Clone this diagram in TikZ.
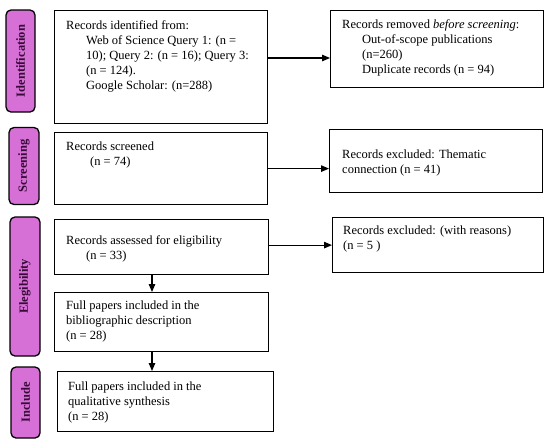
\documentclass[tikz,border=0pt]{standalone}
\usepackage{fontspec}
\setmainfont{Liberation Serif}
\usetikzlibrary{arrows.meta}
\definecolor{tabfill}{RGB}{214,112,214}
\definecolor{tabtext}{RGB}{55,10,55}
\tikzset{
  tab/.style={draw=black, line width=1.3pt, fill=tabfill, rounded corners=5pt, rotate=90, inner sep=0pt,
    text=tabtext, font=\fontsize{12.5}{14}\selectfont\bfseries},
  box/.style={draw=black, line width=1.2pt, anchor=north west, inner sep=0pt},
  boxtext/.style={anchor=north west, align=left, inner sep=0pt, font=\fontsize{12.5}{15}\selectfont}
}
\begin{document}
\begin{tikzpicture}[x=1pt, y=-1pt, >={Triangle[length=8pt,width=6.5pt]}]
      \useasboundingbox[fill=white] (0,0) rectangle (550,448);
      \node[tab, minimum width=102, minimum height=29] (tabid) at (20.5,61) {Identification};
      \node[tab, minimum width=77, minimum height=30] (tabscr) at (24,166) {Screening};
      \node[tab, minimum width=139, minimum height=30] (tabeli) at (25,286.5) {Elegibility};
      \node[tab, minimum width=71, minimum height=29] (tabinc) at (25.5,402.5) {Include};
      \node[box, minimum width=213, minimum height=113] (idbox) at (54,10) {};
      \node[box, minimum width=213, minimum height=77] (rmbox) at (330,10) {};
      \node[box, minimum width=213, minimum height=72] (scrbox) at (54,132) {};
      \node[box, minimum width=213, minimum height=63] (exbox) at (329,129) {};
      \node[box, minimum width=214, minimum height=55] (assbox) at (54,219) {};
      \node[box, minimum width=211, minimum height=55] (rsnbox) at (332,217) {};
      \node[box, minimum width=214, minimum height=59] (bibbox) at (54,292) {};
      \node[box, minimum width=216, minimum height=60] (qualbox) at (57,371) {};
      \node[boxtext] (idtext) at (66,20) {Records identified from:\\
        \hspace*{20pt}Web of Science Query 1: (n =\\
        \hspace*{20pt}10); Query 2: (n = 16); Query 3:\\
        \hspace*{20pt}(n = 124).\\
        \hspace*{20pt}Google Scholar: (n=288)};
      \node[boxtext] (rmtext) at (342,19.5) {Records removed \textit{before screening}:\\
        \hspace*{20pt}Out-of-scope publications\\
        \hspace*{20pt}(n=260)\\
        \hspace*{20pt}Duplicate records (n = 94)};
      \node[boxtext] (scrtext) at (66,142) {Records screened\\ \hspace*{24pt}(n = 74)};
      \node[boxtext] (extext) at (342,150) {Records excluded: Thematic\\ connection (n = 41)};
      \node[boxtext] (asstext) at (66,235) {Records assessed for eligibility\\ \hspace*{20pt}(n = 33)};
      \node[boxtext] (rsntext) at (343,225.5) {Records excluded: (with reasons)\\ (n = 5 )};
      \node[boxtext] (bibtext) at (66,301) {Full papers included in the\\ bibliographic description\\ (n = 28)};
      \node[boxtext] (qualtext) at (68,382) {Full papers included in the\\ qualitative synthesis\\ (n = 28)};
      \draw[->, line width=1.2pt] (idbox.east |- 0,58) -- (rmbox.west |- 0,58);
      \draw[->, line width=1.2pt] (scrbox.east) -- (scrbox.east -| exbox.west);
      \draw[->, line width=1.2pt] (rsnbox.west -| assbox.east) -- (rsnbox.west);
      \draw[->, line width=1.2pt] (assbox.south -| 152,0) -- (bibbox.north -| 152,0);
      \draw[->, line width=1.2pt] (bibbox.south -| 152,0) -- (qualbox.north -| 152,0);
    \end{tikzpicture}
\end{document}
